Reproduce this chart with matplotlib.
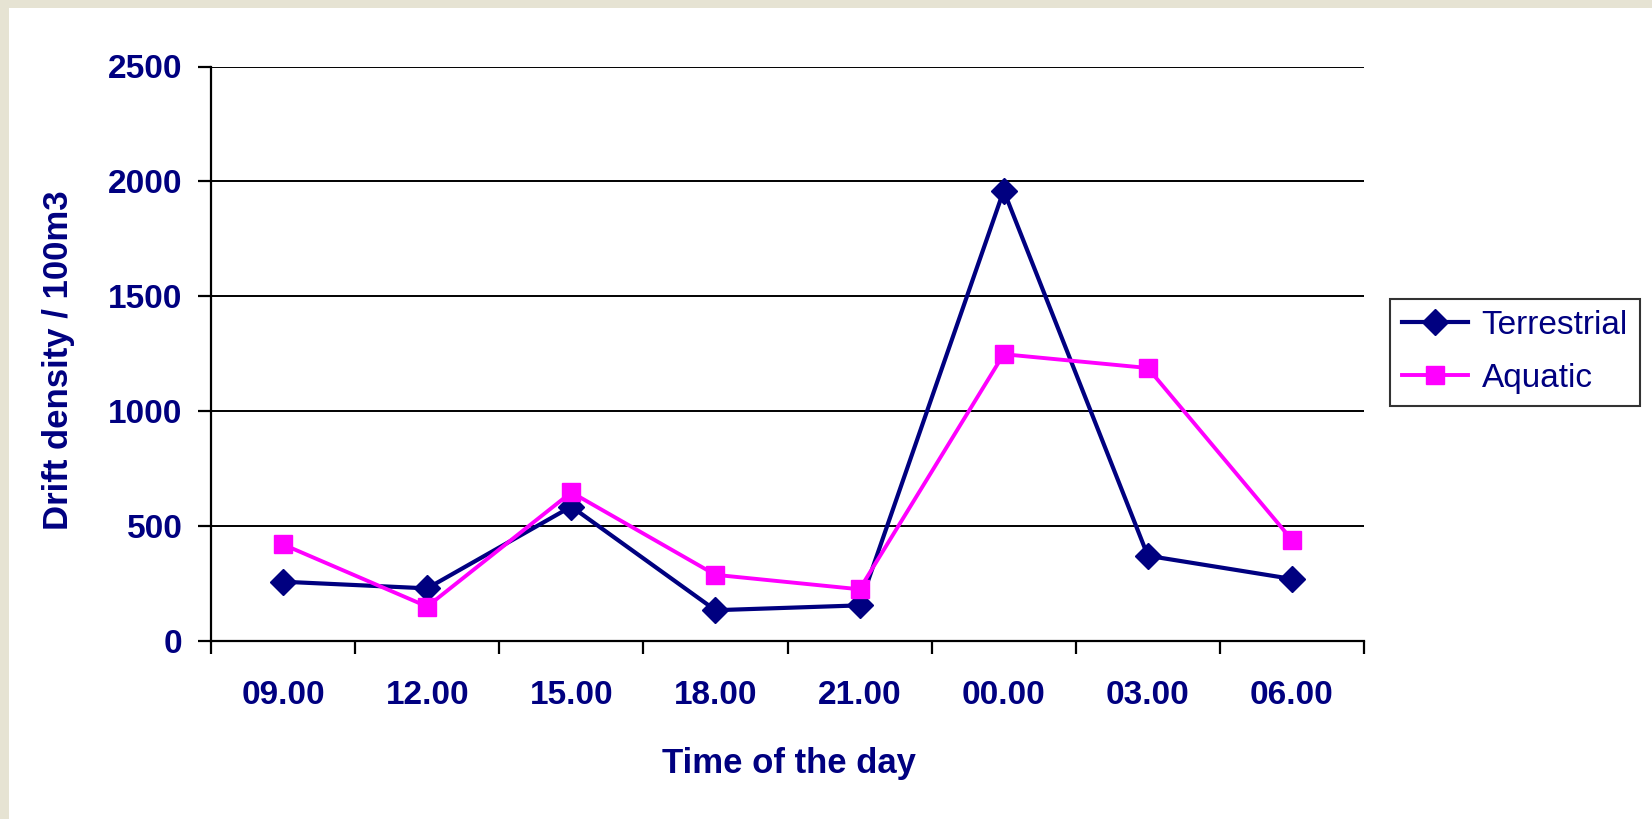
import numpy as np
import matplotlib.pyplot as plt
from matplotlib.patches import Rectangle

times = ["09.00", "12.00", "15.00", "18.00", "21.00", "00.00", "03.00", "06.00"]
terrestrial = [258, 229, 585, 134, 155, 1960, 371, 270]
aquatic = [420, 150, 647, 288, 225, 1248, 1188, 440]

navy = "#000080"
pink = "#ff00ff"
beige = "#e6e3d3"

plt.rcParams['font.family'] = ['Liberation Sans', 'DejaVu Sans']

fig = plt.figure(figsize=(16.52, 8.19), dpi=100)
fig.patch.set_facecolor("white")
# beige strips along top and left edge
fig.patches.append(Rectangle((0, 1 - 8 / 819), 1, 8 / 819, transform=fig.transFigure,
                             facecolor=beige, edgecolor="none", zorder=-5))
fig.patches.append(Rectangle((0, 0), 9 / 1652, 1, transform=fig.transFigure,
                             facecolor=beige, edgecolor="none", zorder=-5))

ax = fig.add_axes([211 / 1652, 1 - 641 / 819, (1364 - 211) / 1652, 574.5 / 819])
ax.set_facecolor("none")

x = np.arange(len(times))
ax.plot(x, terrestrial, color=navy, lw=3.0, marker="D", ms=13, label="Terrestrial", zorder=3)
ax.plot(x, aquatic, color=pink, lw=2.8, marker="s", ms=13.5, label="Aquatic", zorder=4)

ax.set_xlim(-0.5, len(times) - 0.5)
ax.set_ylim(0, 2500)
ax.set_yticks(np.arange(0, 2501, 500))
ax.yaxis.grid(True, color="black", lw=1.4)
ax.set_axisbelow(True)

ax.set_xticks(np.arange(-0.5, len(times), 1))
ax.set_xticklabels([])
ax.set_xticks(x, minor=True)
ax.set_xticklabels(times, minor=True)
ax.tick_params(axis="x", which="major", direction="out", length=9, width=1.6, color="black")
ax.tick_params(axis="x", which="minor", length=0, pad=28, labelsize=24, labelcolor=navy)
ax.tick_params(axis="y", direction="out", length=9.5, width=1.6, pad=11, labelsize=24, labelcolor=navy)
for lab in ax.get_xticklabels(minor=True) + ax.get_yticklabels():
    lab.set_fontweight("bold")

for s in ["top", "right"]:
    ax.spines[s].set_visible(False)
for s in ["left", "bottom"]:
    ax.spines[s].set_linewidth(1.6)
    ax.spines[s].set_color("black")

fig.text(789 / 1652, 1 - 763 / 819, "Time of the day", ha="center", va="center",
         fontsize=25, fontweight="bold", color=navy)
fig.text(59 / 1652, 1 - 360 / 819, "Drift density / 100m3", ha="center", va="center",
         rotation=90, fontsize=25, fontweight="bold", color=navy)

leg = ax.legend(loc="center left", bbox_to_anchor=(1390 / 1652, 1 - 352 / 819),
                bbox_transform=fig.transFigure, fontsize=24, frameon=True, fancybox=False,
                edgecolor="black", handlelength=2.0, handletextpad=0.4, borderpad=0.35,
                labelspacing=0.65, borderaxespad=0)
leg.get_frame().set_linewidth(1.5)
for t in leg.get_texts():
    t.set_color(navy)

fig.savefig("out.png", dpi=100, facecolor=fig.get_facecolor())
